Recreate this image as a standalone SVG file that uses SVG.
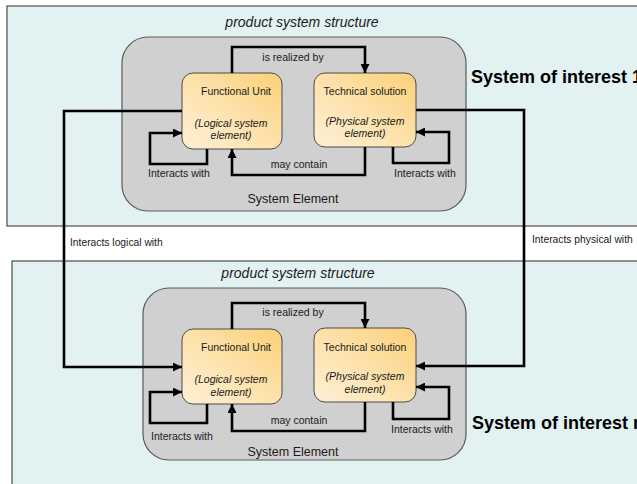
<svg xmlns="http://www.w3.org/2000/svg" width="637" height="484" viewBox="0 0 637 484">
  <defs>
    <linearGradient id="gold" x1="0" y1="1" x2="1" y2="0">
      <stop offset="0" stop-color="#fdf0d8"/>
      <stop offset="0.55" stop-color="#fde0a6"/>
      <stop offset="1" stop-color="#fcd077"/>
    </linearGradient>
    <marker id="arrow" viewBox="0 0 10 10" refX="10" refY="5" markerWidth="9" markerHeight="9" markerUnits="userSpaceOnUse" orient="auto">
      <path d="M0,0 L10,5 L0,10 z" fill="#000"/>
    </marker>
  </defs>
  <style>
    .panel { fill: #e2f2f2; stroke: #4d4d4d; stroke-width: 1.2; }
    .element { fill: #d0d0d0; stroke: #5a5a5a; stroke-width: 1.2; }
    .unit { fill: url(#gold); stroke: #4a4a4a; stroke-width: 1; }
    .conn { fill: none; stroke: #000; stroke-width: 2.6; stroke-linejoin: miter; }
    .arr { marker-end: url(#arrow); }
    text { font-family: "Liberation Sans", Arial, sans-serif; fill: #1a1a1a; }
    .lbl { font-size: 10.5px; }
    .small { font-size: 10.3px; }
    .it { font-style: italic; font-size: 10.5px; }
    .title { font-style: italic; font-size: 14px; }
    .se { font-size: 12.5px; }
    .soi { font-size: 18px; font-weight: bold; fill: #000; }
  </style>

  <!-- upper system of interest -->
  <g id="soi-1">
    <rect class="panel" x="7" y="6" width="640" height="220"/>
    <text class="title" x="302" y="27" text-anchor="middle">product system structure</text>
    <text class="soi" x="471" y="83">System of interest 1</text>
  </g>
  <g id="element-1">
    <rect class="element" x="122" y="37" width="344" height="174" rx="26"/>
    <text class="se" x="293" y="203" text-anchor="middle">System Element</text>
  </g>
  <g id="fu-1">
    <rect class="unit" x="182" y="73" width="100" height="76" rx="11"/>
    <text class="lbl" x="236" y="95" text-anchor="middle">Functional Unit</text>
    <text class="it" x="231" y="127" text-anchor="middle">(Logical system</text>
    <text class="it" x="231" y="139" text-anchor="middle">element)</text>
  </g>
  <g id="ts-1">
    <rect class="unit" x="314" y="73" width="102" height="74" rx="11"/>
    <text class="lbl" x="365" y="95" text-anchor="middle">Technical solution</text>
    <text class="it" x="365" y="125" text-anchor="middle">(Physical system</text>
    <text class="it" x="365" y="137" text-anchor="middle">element)</text>
  </g>

  <!-- lower system of interest -->
  <g id="soi-n">
    <rect class="panel" x="12" y="261" width="640" height="240"/>
    <text class="title" x="298" y="278" text-anchor="middle">product system structure</text>
    <text class="soi" x="472" y="429">System of interest n</text>
  </g>
  <g id="element-n">
    <rect class="element" x="143" y="288" width="323" height="172" rx="26"/>
    <text class="se" x="293" y="456" text-anchor="middle">System Element</text>
  </g>
  <g id="fu-n">
    <rect class="unit" x="182" y="329" width="100" height="75" rx="11"/>
    <text class="lbl" x="236" y="351" text-anchor="middle">Functional Unit</text>
    <text class="it" x="231" y="383" text-anchor="middle">(Logical system</text>
    <text class="it" x="231" y="396" text-anchor="middle">element)</text>
  </g>
  <g id="ts-n">
    <rect class="unit" x="314" y="328" width="102" height="74" rx="11"/>
    <text class="lbl" x="365" y="351" text-anchor="middle">Technical solution</text>
    <text class="it" x="365" y="380" text-anchor="middle">(Physical system</text>
    <text class="it" x="365" y="393" text-anchor="middle">element)</text>
  </g>

  <!-- connectors -->
  <g id="connectors">
    <!-- upper element -->
    <path class="conn arr" d="M232,73 V47 H365 V73"/>
    <path class="conn arr" d="M365,147 V175 H232 V149"/>
    <path class="conn arr" d="M207,149 V164 H150 V133 H182"/>
    <path class="conn arr" d="M393,147 V163 H449 V132 H416"/>
    <!-- lower element -->
    <path class="conn arr" d="M232,329 V303 H365 V328"/>
    <path class="conn arr" d="M365,402 V431 H232 V404"/>
    <path class="conn arr" d="M207,404 V423 H150 V392 H182"/>
    <path class="conn arr" d="M393,402 V419 H449 V387 H416"/>
    <!-- between systems -->
    <path class="conn arr" d="M182,111 H64 V367 H182"/>
    <path class="conn arr" d="M416,110 H524 V366 H416"/>
  </g>

  <!-- connector labels -->
  <g id="labels">
    <text class="lbl" x="293" y="61" text-anchor="middle">is realized by</text>
    <text class="lbl" x="299" y="168" text-anchor="middle">may contain</text>
    <text class="lbl" x="148" y="177">Interacts with</text>
    <text class="lbl" x="394" y="177">Interacts with</text>
    <text class="lbl" x="293" y="316" text-anchor="middle">is realized by</text>
    <text class="lbl" x="299" y="424" text-anchor="middle">may contain</text>
    <text class="lbl" x="151" y="440">Interacts with</text>
    <text class="lbl" x="391" y="433">Interacts with</text>
    <text class="small" x="70" y="246">Interacts logical with</text>
    <text class="small" x="532" y="243">Interacts physical with</text>
  </g>
</svg>
